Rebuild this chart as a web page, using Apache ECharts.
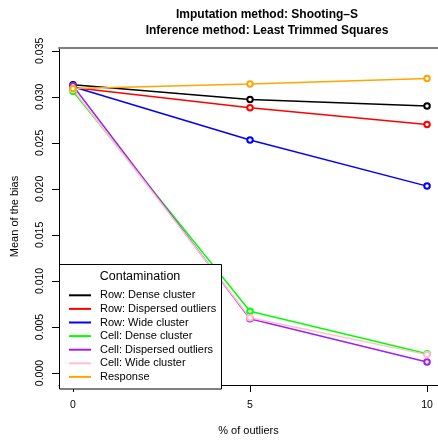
<!DOCTYPE html>
<html><head><meta charset="utf-8">
<script src="https://cdn.jsdelivr.net/npm/echarts@6/dist/echarts.min.js"></script>
<style>html,body{margin:0;padding:0;background:#fff}#c{width:438px;height:441px}</style>
</head><body><div id="c"></div>
<script>
const xValues = [0, 5, 10];
const xTicks = [0, 5, 10];
const yTicks = [0, 0.005, 0.01, 0.015, 0.02, 0.025, 0.03, 0.035];
const seriesNames = ['Row: Dense cluster','Row: Dispersed outliers','Row: Wide cluster','Cell: Dense cluster','Cell: Dispersed outliers','Cell: Wide cluster','Response'];
const rowDense = [0.0313, 0.0297, 0.0290];
const rowDispersed = [0.0310, 0.0288, 0.0270];
const rowWide = [0.0311, 0.0253, 0.0203];
const cellDense = [0.0306, 0.0067, 0.0021];
const cellDispersed = [0.0312, 0.0059, 0.0012];
const cellWide = [0.0308, 0.0060, 0.0020];
const response = [0.0309, 0.0314, 0.0320];
const colors = ['#000000','#FF0000','#0000FF','#00FF00','#A020F0','#FFC0CB','#FFA500'];
const allValues = [rowDense,rowDispersed,rowWide,cellDense,cellDispersed,cellWide,response];

const FONT = 'Liberation Sans, Arial, sans-serif';
const chart = echarts.init(document.getElementById('c'), null, {renderer:'canvas'});
const series = seriesNames.map((n,i)=>({
  name:n, type:'line', data: xValues.map((x,j)=>[x, allValues[i][j]]),
  symbol:'emptyCircle', symbolSize:5.5, showSymbol:true,
  lineStyle:{color:colors[i], width:1.5},
  itemStyle:{color:colors[i], borderColor:colors[i], borderWidth:1.5},
  emphasis:{disabled:true}, animation:false, z:2
}));
chart.setOption({
  animation:false,
  textStyle:{fontFamily:FONT},
  grid:{left:59, top:48, right:0, bottom:52, containLabel:false},
  xAxis:[{
    type:'value', min:-0.395, max:10.31, position:'bottom',
    name:'% of outliers', nameLocation:'middle', nameGap:40,
    nameTextStyle:{fontSize:11, color:'#000', fontFamily:FONT},
    axisLine:{show:true, onZero:false, lineStyle:{color:'#000', width:1}},
    axisTick:{show:true, length:7, customValues:xTicks, lineStyle:{color:'#000'}},
    axisLabel:{customValues:xTicks, margin:15, fontSize:10.5, color:'#000', fontFamily:FONT},
    splitLine:{show:false}
  },{
    type:'value', min:-0.395, max:10.31, position:'top',
    axisLine:{show:true, onZero:false, lineStyle:{color:'#7f7f7f', width:2}},
    axisTick:{show:false}, axisLabel:{show:false}, splitLine:{show:false}
  }],
  yAxis:{
    type:'value', min:-0.0013, max:0.0353,
    name:'Mean of the bias', nameLocation:'middle', nameGap:39, nameRotate:90,
    nameTextStyle:{fontSize:11, color:'#000', fontFamily:FONT},
    axisLine:{show:true, onZero:false, lineStyle:{color:'#000', width:1}},
    axisTick:{show:true, length:7, customValues:yTicks, lineStyle:{color:'#000'}},
    axisLabel:{customValues:yTicks, rotate:90, margin:13, fontSize:10.5, color:'#000', fontFamily:FONT,
      formatter:v=>v.toFixed(3)},
    splitLine:{show:false}
  },
  legend:{
    orient:'vertical', left:69, top:288.5, padding:0, itemGap:0, z:20,
    itemWidth:22, itemHeight:2, icon:'rect',
    data: seriesNames.map((n,i)=>({name:n, itemStyle:{color:colors[i], borderWidth:0}})),
    textStyle:{fontSize:11, color:'#000', fontFamily:FONT, lineHeight:13.6, padding:[0,0,0,4]},
    selectedMode:false
  },
  graphic:[
    {type:'rect', z:10, shape:{x:59.5, y:264.5, width:162, height:124.5}, style:{fill:'#fff', stroke:'#000', lineWidth:1}},
    {type:'text', z:11, x:140, y:277, style:{text:'Contamination', font:'12.5px '+FONT, fill:'#000', textAlign:'center', textVerticalAlign:'middle'}},
    {type:'text', z:11, x:267, y:15, style:{text:'Imputation method: Shooting\u2013S', font:'bold 12px '+FONT, fill:'#000', textAlign:'center', textVerticalAlign:'middle'}},
    {type:'text', z:11, x:267, y:31, style:{text:'Inference method: Least Trimmed Squares', font:'bold 12px '+FONT, fill:'#000', textAlign:'center', textVerticalAlign:'middle'}}
  ],
  series: series
});
</script></body></html>
